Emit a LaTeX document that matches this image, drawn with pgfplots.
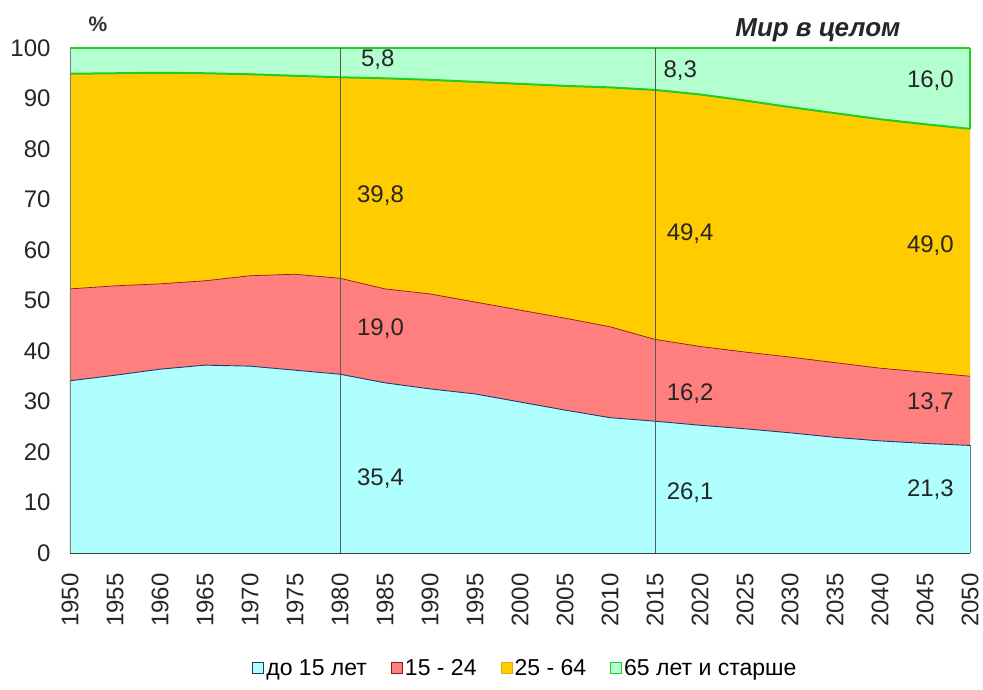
\documentclass[border=0pt]{standalone}
\usepackage{pgfplots}
\pgfplotsset{compat=1.18}
\usepackage{pgfplotstable}
\usepackage{fontspec}
\setmainfont{Liberation Sans}
\definecolor{cU}{HTML}{B0FFFF}
\definecolor{eU}{HTML}{1F3A6B}
\definecolor{cR}{HTML}{FF7F7F}
\definecolor{eR}{HTML}{8B1A1A}
\definecolor{cO}{HTML}{FFCC00}
\definecolor{eO}{HTML}{E8A800}
\definecolor{cG}{HTML}{B3FFD0}
\definecolor{eG}{HTML}{22CC22}
\pgfplotsset{legend image code/.code={\draw[#1] (0pt,-5.5pt) rectangle (11pt,5.5pt);}}
% cumulative boundaries: u = under 15, v = under 25, w = under 65, t = total
\pgfplotstableread{
year u v w t
1950 34.1 52.3 94.9 100
1955 35.2 52.9 95.0 100
1960 36.4 53.3 95.1 100
1965 37.2 53.9 95.0 100
1970 37.0 54.9 94.8 100
1975 36.2 55.2 94.5 100
1980 35.4 54.4 94.2 100
1985 33.7 52.3 94.0 100
1990 32.5 51.3 93.7 100
1995 31.5 49.7 93.3 100
2000 29.9 48.1 92.9 100
2005 28.3 46.5 92.5 100
2010 26.8 44.8 92.2 100
2015 26.1 42.3 91.7 100
2020 25.3 40.9 90.8 100
2025 24.6 39.8 89.6 100
2030 23.8 38.8 88.3 100
2035 22.9 37.7 87.1 100
2040 22.2 36.6 85.9 100
2045 21.7 35.8 84.9 100
2050 21.3 35.0 84.0 100
}\popdata
\newcommand{\lblfont}{\fontsize{24}{28}\selectfont}
\begin{document}
\begin{tikzpicture}
\path[use as bounding box] (-70pt,-136pt) rectangle (913pt,553pt);
\begin{axis}[
  scale only axis, width=900pt, height=505pt,
  xmin=1950, xmax=2050, ymin=0, ymax=100,
  xtick={1950,1955,...,2050}, ytick={0,10,...,100},
  /pgf/number format/1000 sep={},
  /pgf/number format/assume math mode=true,
  major tick length=0pt,
  ticklabel style={font=\lblfont, text=black!85},
  xticklabel style={yshift=-17pt, rotate=90, anchor=east},
  yticklabel style={xshift=-16pt},
  axis line style={draw=none},
  legend columns=4,
  legend style={draw=none, fill=none, at={(0.506,-0.228)}, anchor=center,
    font=\fontsize{23}{26}\selectfont,
    /tikz/every even column/.append style={column sep=22pt}},
  clip=false,
]
\addlegendimage{fill=cU, draw=eU, line width=1pt}
\addlegendentry{до 15 лет}
\addlegendimage{fill=cR, draw=eR, line width=1pt}
\addlegendentry{15 - 24}
\addlegendimage{fill=cO, draw=eO, line width=1pt}
\addlegendentry{25 - 64}
\addlegendimage{fill=cG, draw=eG, line width=1pt}
\addlegendentry{65 лет и старше}
\addplot[forget plot, fill=cG, draw=none] table[x=year,y=t] {\popdata} \closedcycle;
\addplot[forget plot, fill=cO, draw=none] table[x=year,y=w] {\popdata} \closedcycle;
\addplot[forget plot, fill=cR, draw=none] table[x=year,y=v] {\popdata} \closedcycle;
\addplot[forget plot, fill=cU, draw=none] table[x=year,y=u] {\popdata} \closedcycle;
\addplot[forget plot, draw=eG, line width=2pt] table[x=year,y=w] {\popdata};
\addplot[forget plot, draw=eG, line width=1.6pt] table[x=year,y=t] {\popdata};
\addplot[forget plot, draw=eR, line width=0.7pt] table[x=year,y=v] {\popdata};
\addplot[forget plot, draw=eU, line width=0.9pt] table[x=year,y=u] {\popdata};
\coordinate (A0) at (axis cs:1950,0);
\coordinate (A1) at (axis cs:1950,100);
\coordinate (B0) at (axis cs:2050,0);
\coordinate (Bu) at (axis cs:2050,21.3);
\coordinate (Bw) at (axis cs:2050,84.0);
\coordinate (B1) at (axis cs:2050,100);
\coordinate (V10) at (axis cs:1980,0);
\coordinate (V11) at (axis cs:1980,100);
\coordinate (V20) at (axis cs:2015,0);
\coordinate (V21) at (axis cs:2015,100);
\coordinate (L1) at (axis cs:1984.5,14.8);
\coordinate (L2) at (axis cs:1984.5,44.5);
\coordinate (L3) at (axis cs:1984.5,70.7);
\coordinate (L4) at (axis cs:1984.2,97.6);
\coordinate (M1) at (axis cs:2018.9,12.0);
\coordinate (M2) at (axis cs:2018.9,31.5);
\coordinate (M3) at (axis cs:2018.9,63.2);
\coordinate (M4) at (axis cs:2017.8,95.6);
\coordinate (N1) at (axis cs:2045.6,12.5);
\coordinate (N2) at (axis cs:2045.6,29.7);
\coordinate (N3) at (axis cs:2045.6,60.8);
\coordinate (N4) at (axis cs:2045.6,93.5);
\coordinate (T) at (rel axis cs:0.831,1.036);
\coordinate (P) at (rel axis cs:0.031,1.046);
\end{axis}
\draw[eG, line width=1.6pt] (Bw) -- (B1);
\draw[eU!70, line width=0.9pt] (B0) -- (Bu);
\draw[gray!70!black, line width=0.8pt] (V10) -- (V11);
\draw[gray!70!black, line width=0.8pt] (V20) -- (V21);
\draw[gray, line width=0.8pt] (A0) -- (A1);
\draw[black!75, line width=1pt] (A0) -- (B0);
\begin{scope}[every node/.style={font=\lblfont, text=black!85}]
\node at (L1) {35,4};
\node at (L2) {19,0};
\node at (L3) {39,8};
\node at (L4) {5,8};
\node at (M1) {26,1};
\node at (M2) {16,2};
\node at (M3) {49,4};
\node at (M4) {8,3};
\node at (N1) {21,3};
\node at (N2) {13,7};
\node at (N3) {49,0};
\node at (N4) {16,0};
\end{scope}
\node[font=\fontsize{26}{30}\selectfont\bfseries\itshape, text=black!85] at (T) {Мир в целом};
\node[font=\fontsize{21}{24}\selectfont\bfseries, text=black!80] at (P) {\%};
\end{tikzpicture}
\end{document}
